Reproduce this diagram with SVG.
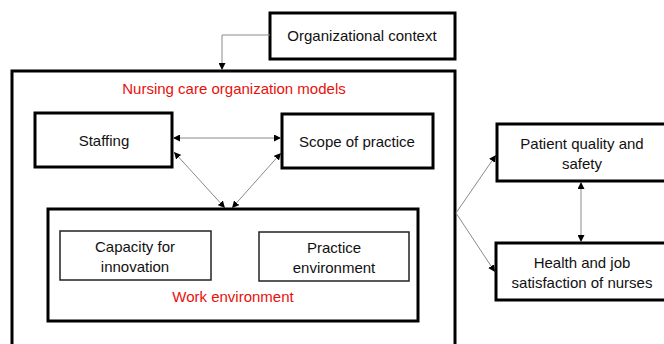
<svg xmlns="http://www.w3.org/2000/svg" width="664" height="344" viewBox="0 0 664 344">
<style>
.box{fill:#fff;stroke:#000;stroke-width:3}
.thin{fill:#fff;stroke:#222;stroke-width:1.5}
.t{font-family:"Liberation Sans",Arial,sans-serif;font-size:15px;fill:#111;text-anchor:middle}
.red{fill:#e8100c}
.c{fill:none;stroke:#8a8a8a;stroke-width:1}
</style>
<defs>
<marker id="ah" viewBox="0 0 10 10" refX="10" refY="5" markerWidth="7" markerHeight="7" markerUnits="userSpaceOnUse" orient="auto-start-reverse">
<path d="M0,0 L10,5 L0,10 z" fill="#000"/>
</marker>
</defs>
<rect width="664" height="344" fill="#fff"/>
<g id="org-context">
<rect class="box" x="270" y="13" width="185" height="46"/>
<text class="t" x="362" y="41">Organizational context</text>
</g>
<g id="nursing-models">
<rect class="box" x="12" y="71" width="443" height="290"/>
<text class="t red" x="234" y="94">Nursing care organization models</text>
</g>
<g id="staffing">
<rect class="box" x="35" y="113" width="137" height="54"/>
<text class="t" x="104" y="146">Staffing</text>
</g>
<g id="scope">
<rect class="box" x="282" y="114" width="151" height="54"/>
<text class="t" x="357" y="147">Scope of practice</text>
</g>
<g id="work-env">
<rect class="box" x="48" y="209" width="370" height="112"/>
<text class="t red" x="233" y="302">Work environment</text>
</g>
<g id="capacity">
<rect class="thin" x="60" y="231" width="151" height="49"/>
<text class="t" x="135" y="252">Capacity for</text>
<text class="t" x="135" y="272">innovation</text>
</g>
<g id="practice-env">
<rect class="thin" x="259" y="232" width="150" height="49"/>
<text class="t" x="334" y="253">Practice</text>
<text class="t" x="334" y="273">environment</text>
</g>
<g id="patient">
<rect class="box" x="497" y="124" width="170" height="57"/>
<text class="t" x="582" y="149">Patient quality and</text>
<text class="t" x="582" y="169">safety</text>
</g>
<g id="health">
<rect class="box" x="496" y="243" width="171" height="57"/>
<text class="t" x="582" y="268">Health and job</text>
<text class="t" x="582" y="288">satisfaction of nurses</text>
</g>
<g id="connectors">
<path class="c" d="M270,35 H222 V70" marker-end="url(#ah)"/>
<line class="c" x1="173" y1="138" x2="281" y2="138" marker-start="url(#ah)" marker-end="url(#ah)"/>
<line class="c" x1="174" y1="152" x2="225" y2="208" marker-start="url(#ah)" marker-end="url(#ah)"/>
<line class="c" x1="281" y1="153" x2="232" y2="208" marker-start="url(#ah)" marker-end="url(#ah)"/>
<path class="c" d="M456,213 L496,155" marker-end="url(#ah)"/>
<path class="c" d="M456,213 L495,272" marker-end="url(#ah)"/>
<line class="c" x1="581" y1="182" x2="581" y2="242" marker-start="url(#ah)" marker-end="url(#ah)"/>
</g>
</svg>
